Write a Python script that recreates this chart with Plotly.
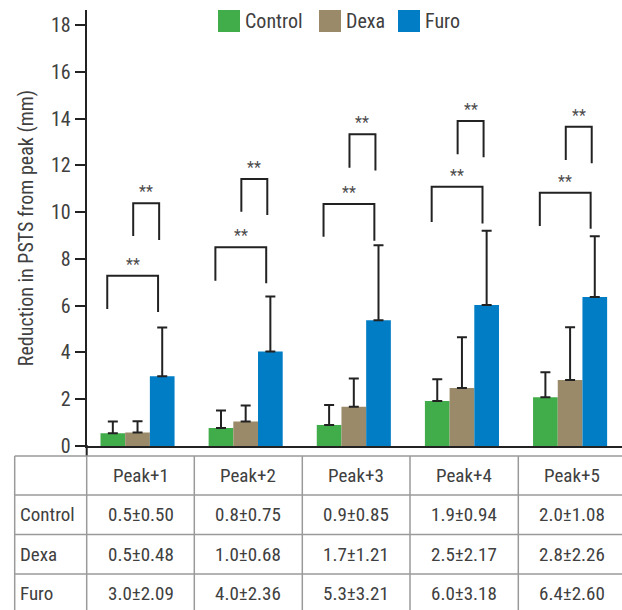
import plotly.graph_objects as go

W, H = 622, 610

categories = ["Peak+1", "Peak+2", "Peak+3", "Peak+4", "Peak+5"]
groups = ["Control", "Dexa", "Furo"]
colors = ["#41ad4a", "#9b8a69", "#007dc5"]

control_mean = [0.55, 0.77, 0.90, 1.92, 2.08]
control_sd = [0.50, 0.75, 0.85, 0.94, 1.08]
dexa_mean = [0.58, 1.05, 1.68, 2.48, 2.82]
dexa_sd = [0.48, 0.68, 1.21, 2.17, 2.26]
furo_mean = [2.98, 4.04, 5.38, 6.03, 6.37]
furo_sd = [2.09, 2.36, 3.21, 3.18, 2.60]

# significance brackets (y values): [top, left leg bottom, right leg bottom]
wide_brackets = [[7.28, 5.86, 5.73], [8.50, 7.07, 6.96], [10.35, 8.95, 8.78],
                 [11.09, 9.58, 9.52], [10.83, 9.41, 9.29]]
narrow_brackets = [[10.38, 8.98, 8.81], [11.42, 10.02, 9.88], [13.33, 11.90, 11.78],
                   [13.90, 12.48, 12.35], [13.66, 12.23, 12.09]]
sig_label = "**"

table_rows = ["Control", "Dexa", "Furo"]
table_control = ["0.5±0.50", "0.8±0.75", "0.9±0.85", "1.9±0.94", "2.0±1.08"]
table_dexa = ["0.5±0.48", "1.0±0.68", "1.7±1.21", "2.5±2.17", "2.8±2.26"]
table_furo = ["3.0±2.09", "4.0±2.36", "5.3±3.21", "6.0±3.18", "6.4±2.60"]

FONT = "Liberation Sans Narrow, Roboto Condensed, Arial Narrow, sans-serif"
TXT = "#404040"


def px(x):
    return x / W


def py(y):
    return 1 - y / H


fig = go.Figure()
xs = list(range(len(categories)))
for name, mean, sd, col in zip(groups, [control_mean, dexa_mean, furo_mean],
                               [control_sd, dexa_sd, furo_sd], colors):
    fig.add_trace(go.Bar(
        x=xs, y=mean, name=name, marker=dict(color=col, line=dict(width=0)),
        error_y=dict(type="data", symmetric=False, array=sd,
                     arrayminus=[0] * len(sd), color="#222222",
                     thickness=2, width=5),
        showlegend=False,
    ))

shapes = []
annotations = []
# brackets
for i in range(len(categories)):
    for (top, lb, rb), (dl, dr) in [(wide_brackets[i], (-0.28, 0.19)),
                                    (narrow_brackets[i], (-0.04, 0.20))]:
        x0, x1 = i + dl, i + dr
        path = f"M {x0},{lb} L {x0},{top} L {x1},{top} L {x1},{rb}"
        shapes.append(dict(type="path", path=path, xref="x", yref="y",
                           line=dict(color="#222222", width=2)))
        annotations.append(dict(x=(x0 + x1) / 2, y=top, xref="x", yref="y",
                                text=sig_label, showarrow=False, yanchor="bottom",
                                font=dict(family=FONT, size=16, color="#4a4a4a")))

# legend (manual, large swatches)
leg_x = [218, 319, 398]
for name, col, lx in zip(groups, colors, leg_x):
    shapes.append(dict(type="rect", xref="paper", yref="paper",
                       x0=px(lx), x1=px(lx + 22), y0=py(32), y1=py(10),
                       fillcolor=col, line=dict(width=0)))
    annotations.append(dict(x=px(lx + 25), y=py(21), xref="paper", yref="paper",
                            text=name, showarrow=False, xanchor="left", yanchor="middle",
                            font=dict(family=FONT, size=20, color=TXT)))

# y-axis extension down to table
shapes.append(dict(type="line", xref="paper", yref="paper", x0=px(86.7), x1=px(86.7),
                   y0=py(445), y1=py(456), line=dict(color="#222222", width=2)))

# table
grid = "#9a9a9a"
col_x = [14.7, 86.7, 194.3, 302.3, 410.0, 518.3, 626.3]
row_y = [456, 495, 534.5, 574, 613]
for yv in row_y[:-1]:
    shapes.append(dict(type="line", xref="paper", yref="paper", x0=px(col_x[0]), x1=1,
                       y0=py(yv), y1=py(yv), line=dict(color=grid, width=1.5)))
for xv in col_x[:-1]:
    shapes.append(dict(type="line", xref="paper", yref="paper", x0=px(xv), x1=px(xv),
                       y0=py(456), y1=0, line=dict(color=grid, width=1.5)))

for j, cat in enumerate(categories):
    cx = (col_x[j + 1] + col_x[j + 2]) / 2
    annotations.append(dict(x=px(cx), y=py((row_y[0] + row_y[1]) / 2), xref="paper", yref="paper",
                            text=cat, showarrow=False, xanchor="center", yanchor="middle",
                            font=dict(family=FONT, size=19, color=TXT)))
for r, (rname, vals) in enumerate(zip(table_rows, [table_control, table_dexa, table_furo])):
    cy = (row_y[r + 1] + row_y[r + 2]) / 2
    annotations.append(dict(x=px(col_x[0] + 3), y=py(cy), xref="paper", yref="paper",
                            text=rname, showarrow=False, xanchor="left", yanchor="middle",
                            font=dict(family=FONT, size=19, color=TXT)))
    for j, v in enumerate(vals):
        cx = (col_x[j + 1] + col_x[j + 2]) / 2
        annotations.append(dict(x=px(cx), y=py(cy), xref="paper", yref="paper",
                                text=v, showarrow=False, xanchor="center", yanchor="middle",
                                font=dict(family=FONT, size=19, color=TXT)))

fig.update_layout(
    width=W, height=H,
    margin=dict(l=0, r=0, t=0, b=0, autoexpand=False),
    paper_bgcolor="white", plot_bgcolor="white",
    barmode="group", bargap=0.315, bargroupgap=0,
    shapes=shapes, annotations=annotations,
    font=dict(family=FONT, color=TXT),
    xaxis=dict(domain=[px(86.7), 1], range=[-0.47, 4.48], showticklabels=False,
               ticks="", showgrid=False, zeroline=False, automargin=False,
               showline=True, linecolor="#222222", linewidth=2),
    yaxis=dict(domain=[py(446), py(10)], range=[0, 18.65], automargin=False,
               tickvals=list(range(0, 19, 2)), ticks="outside", ticklen=10,
               tickwidth=2, tickcolor="#222222", showgrid=False, zeroline=False,
               showline=True, linecolor="#222222", linewidth=2,
               tickfont=dict(family=FONT, size=20, color=TXT),
               title=dict(text="Reduction in PSTS from peak (mm)", standoff=12,
                          font=dict(family=FONT, size=20, color=TXT))),
)

fig.write_html("out.html")
